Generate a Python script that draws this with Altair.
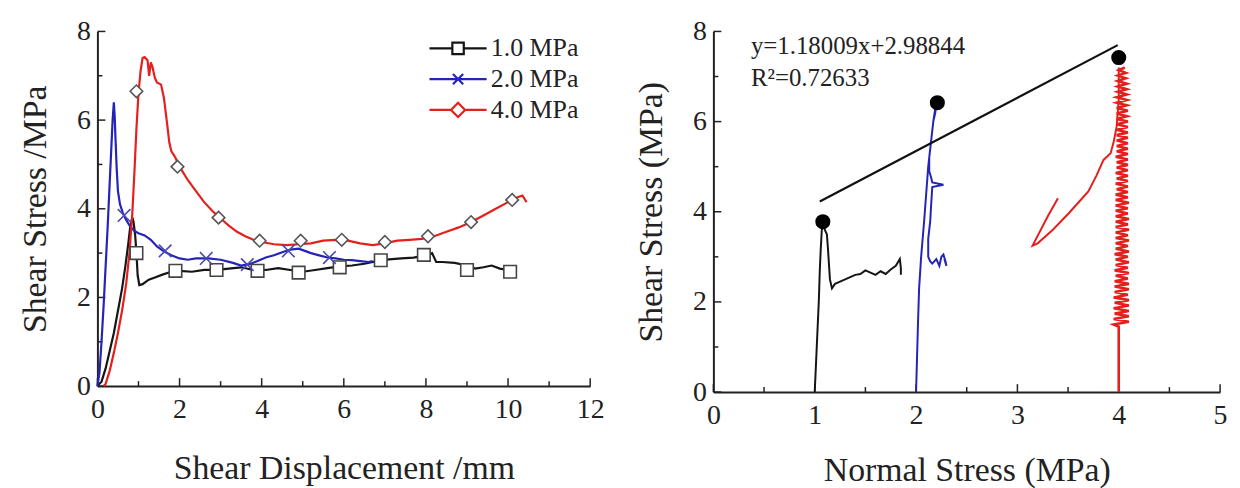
import altair as alt
import pandas as pd

SERIES = ["1.0 MPa", "2.0 MPa", "4.0 MPa"]
COLORS = ["#151515", "#2424b8", "#e41f1c"]
MARKER_STROKE = ["#444444", "#4a4ab0", "#555555"]
FONT = "Liberation Serif"

# ---------------- left panel: shear stress vs shear displacement ----------------
b_x = [0.00, 0.10, 0.20, 0.30, 0.40, 0.50, 0.60, 0.68, 0.75, 0.80, 0.85, 0.88, 0.92, 0.95, 0.98, 1.02, 1.10,
       1.25, 1.40, 1.60, 1.80, 2.00, 2.30, 2.60, 2.90, 3.20, 3.50, 3.80, 4.10, 4.40, 4.70, 5.00, 5.30, 5.60,
       5.90, 6.20, 6.50, 6.80, 7.10, 7.40, 7.70, 8.00, 8.15, 8.25, 8.40, 8.70, 9.00, 9.20, 9.40, 9.60, 9.80, 10.10]
b_y = [0.00, 0.10, 0.40, 0.80, 1.20, 1.70, 2.20, 2.70, 3.20, 3.60, 3.80, 3.70, 3.40, 3.00, 2.50, 2.28, 2.30,
       2.40, 2.45, 2.52, 2.58, 2.60, 2.58, 2.62, 2.62, 2.65, 2.68, 2.62, 2.62, 2.66, 2.62, 2.58, 2.62, 2.66,
       2.70, 2.72, 2.76, 2.82, 2.86, 2.88, 2.90, 2.95, 3.00, 2.80, 2.80, 2.78, 2.72, 2.65, 2.68, 2.72, 2.65, 2.60]
b_mx = [0.95, 1.90, 2.90, 3.90, 4.90, 5.90, 6.90, 7.95, 9.00, 10.05]
b_my = [3.00, 2.60, 2.62, 2.60, 2.56, 2.68, 2.84, 2.96, 2.62, 2.58]

u_x = [0.00, 0.05, 0.10, 0.15, 0.20, 0.25, 0.30, 0.34, 0.37, 0.40, 0.42, 0.44, 0.47, 0.50, 0.55, 0.62, 0.70,
       0.80, 0.90, 1.00, 1.15, 1.30, 1.45, 1.60, 1.80, 2.00, 2.20, 2.40, 2.70, 3.00, 3.30, 3.50, 3.70, 3.90,
       4.10, 4.30, 4.50, 4.70, 4.90, 5.05, 5.20, 5.40, 5.60, 5.80, 6.00, 6.20, 6.40, 6.60, 6.70]
u_y = [0.00, 0.30, 1.00, 1.80, 2.70, 3.60, 4.60, 5.40, 6.00, 6.40, 6.10, 5.60, 4.90, 4.40, 4.10, 3.90, 3.75,
       3.60, 3.50, 3.45, 3.40, 3.30, 3.15, 3.05, 2.95, 2.88, 2.85, 2.88, 2.88, 2.85, 2.78, 2.72, 2.75, 2.82,
       2.90, 2.95, 3.02, 3.08, 3.10, 3.05, 3.00, 2.95, 2.90, 2.88, 2.85, 2.84, 2.82, 2.80, 2.82]
u_mx = [0.65, 1.65, 2.65, 3.65, 4.65, 5.65]
u_my = [3.85, 3.05, 2.88, 2.74, 3.05, 2.90]

r_x = [0.15, 0.20, 0.30, 0.40, 0.50, 0.60, 0.70, 0.78, 0.85, 0.90, 0.95, 1.00, 1.05, 1.10, 1.15, 1.22, 1.26,
       1.30, 1.34, 1.40, 1.45, 1.55, 1.62, 1.70, 1.75, 1.80, 1.90, 2.00, 2.20, 2.40, 2.60, 2.80, 3.00, 3.20,
       3.40, 3.60, 3.80, 4.00, 4.30, 4.60, 4.90, 5.20, 5.50, 5.80, 6.10, 6.40, 6.70, 7.00, 7.30, 7.60, 7.90,
       8.20, 8.50, 8.80, 9.10, 9.40, 9.70, 10.00, 10.20, 10.35, 10.45]
r_y = [0.00, 0.05, 0.35, 0.75, 1.20, 1.70, 2.30, 3.00, 3.90, 4.80, 5.80, 6.60, 7.10, 7.40, 7.42, 7.35, 7.00,
       7.30, 7.20, 6.95, 6.85, 6.80, 6.50, 5.90, 5.50, 5.30, 5.15, 4.95, 4.65, 4.40, 4.15, 3.95, 3.78, 3.62,
       3.48, 3.38, 3.30, 3.25, 3.20, 3.18, 3.20, 3.22, 3.28, 3.30, 3.28, 3.22, 3.18, 3.22, 3.28, 3.30, 3.32,
       3.38, 3.48, 3.58, 3.70, 3.85, 4.00, 4.15, 4.25, 4.30, 4.15]
r_mx = [0.95, 1.95, 2.95, 3.95, 4.95, 5.95, 7.00, 8.05, 9.10, 10.10]
r_my = [6.65, 4.95, 3.80, 3.28, 3.28, 3.30, 3.25, 3.38, 3.70, 4.20]

LX_MAJOR = [0, 2, 4, 6, 8, 10, 12]
LX_MINOR = [1, 3, 5, 7, 9, 11]
Y_MAJOR = [0, 2, 4, 6, 8]
Y_MINOR = [1, 3, 5, 7]

# ---------------- right panel: shear stress vs normal stress ----------------
rb_x = [1.00, 1.02, 1.04, 1.05, 1.06, 1.07, 1.08, 1.10, 1.12, 1.13, 1.15, 1.17, 1.20, 1.25, 1.30, 1.35,
        1.40, 1.45, 1.50, 1.55, 1.60, 1.65, 1.70, 1.75, 1.80, 1.84, 1.85, 1.85]
rb_y = [0.00, 1.00, 2.00, 2.70, 3.20, 3.60, 3.75, 3.60, 3.50, 3.20, 2.50, 2.30, 2.40, 2.45, 2.50, 2.55,
        2.60, 2.62, 2.70, 2.65, 2.60, 2.68, 2.62, 2.72, 2.80, 2.95, 2.75, 2.60]

ru_x = [2.00, 2.01, 2.02, 2.03, 2.05, 2.08, 2.10, 2.12, 2.15, 2.17, 2.19, 2.20, 2.19, 2.17, 2.15, 2.13,
        2.13, 2.15, 2.16, 2.27, 2.16, 2.15, 2.14, 2.12, 2.12, 2.14, 2.16, 2.20, 2.23, 2.25, 2.27, 2.29, 2.30, 2.28]
ru_y = [0.00, 0.80, 1.60, 2.30, 3.00, 3.80, 4.40, 5.00, 5.60, 6.00, 6.30, 6.40, 6.20, 6.00, 5.60, 5.20,
        4.90, 4.75, 4.65, 4.60, 4.55, 4.20, 3.80, 3.40, 3.00, 2.90, 2.85, 2.95, 2.80, 3.00, 3.05, 2.90, 2.80, 2.95]

# red branch running back from the peak
rr1_x = [3.40, 3.30, 3.15, 3.20, 3.35, 3.50, 3.60, 3.70, 3.78, 3.85, 3.92, 3.95, 3.98, 4.00, 4.00]
rr1_y = [4.30, 3.90, 3.25, 3.30, 3.60, 3.95, 4.20, 4.45, 4.80, 5.15, 5.30, 5.55, 5.90, 6.50, 7.20]
# red oscillating band at 4 MPa
rr2_x = [4.00, 4.00, 4.00,
         3.95, 4.10, 3.95, 4.10, 3.96, 4.10, 3.95, 4.10,
         3.96, 4.10, 3.95, 4.09, 3.96, 4.10, 3.96, 4.10,
         3.96, 4.09, 3.97, 4.10, 3.96, 4.09, 3.97, 4.10,
         3.97, 4.09, 3.96, 4.10, 3.97, 4.09, 3.97, 4.10,
         3.97, 4.09, 3.97, 4.10, 3.97, 4.09, 3.97, 4.10,
         3.97, 4.09, 3.97, 4.09, 3.97, 4.10, 3.97, 4.09,
         3.97, 4.09, 3.98, 4.09, 3.97, 4.09, 3.98, 4.09,
         3.97, 4.09, 3.98, 4.09, 3.98, 4.09, 3.97, 4.09,
         3.98, 4.09, 3.98, 4.09, 3.98, 4.09, 3.98, 4.09,
         3.98, 4.09, 3.98, 4.09, 3.98, 4.08, 3.98, 4.09,
         3.98, 4.08, 3.98, 4.08, 3.98, 4.08, 3.99, 4.08,
         3.99, 4.08, 3.99, 4.07, 3.99, 4.07, 4.00, 4.06]
rr2_y = [0.00, 0.80, 1.45,
         1.50, 1.56, 1.62, 1.68, 1.74, 1.80, 1.86, 1.92,
         1.98, 2.04, 2.10, 2.16, 2.22, 2.28, 2.34, 2.40,
         2.46, 2.52, 2.58, 2.64, 2.70, 2.76, 2.82, 2.88,
         2.94, 3.00, 3.06, 3.12, 3.18, 3.24, 3.30, 3.36,
         3.42, 3.48, 3.54, 3.60, 3.66, 3.72, 3.78, 3.84,
         3.90, 3.96, 4.02, 4.08, 4.14, 4.20, 4.26, 4.32,
         4.38, 4.44, 4.50, 4.56, 4.62, 4.68, 4.74, 4.80,
         4.86, 4.92, 4.98, 5.04, 5.10, 5.16, 5.22, 5.28,
         5.34, 5.40, 5.46, 5.52, 5.58, 5.64, 5.70, 5.76,
         5.82, 5.88, 5.94, 6.00, 6.06, 6.12, 6.18, 6.24,
         6.30, 6.36, 6.42, 6.48, 6.54, 6.60, 6.66, 6.72,
         6.78, 6.84, 6.90, 6.96, 7.02, 7.08, 7.14, 7.20]

peak_x = [1.08, 2.21, 4.00]
peak_y = [3.78, 6.42, 7.42]

FIT_SLOPE = 1.18009
FIT_INTERCEPT = 2.98844
fit_x = [1.05, 3.99]

note_x = [0.37, 0.37]
note_y = [7.68, 6.96]
note_text = ["y=1.18009x+2.98844", "R\u00b2=0.72633"]

RX_MAJOR = [0, 1, 2, 3, 4, 5]
RX_MINOR = [0.5, 1.5, 2.5, 3.5, 4.5]

LW, LH = 496, 357
RW, RH = 510, 363
MAJ, MIN = 8, 5


def curve(name, xs, ys, seg=None):
    return pd.DataFrame({"x": xs, "y": ys, "series": name, "seg": seg or name, "i": list(range(len(xs)))})


# ---------- left chart ----------
left_lines = pd.concat([curve(SERIES[0], b_x, b_y), curve(SERIES[1], u_x, u_y), curve(SERIES[2], r_x, r_y)])
left_marks = pd.concat([curve(SERIES[0], b_mx, b_my), curve(SERIES[1], u_mx, u_my), curve(SERIES[2], r_mx, r_my)])
legend_df = pd.DataFrame({"x": [b_mx[0], u_mx[0], r_mx[0]], "y": [b_my[0], u_my[0], r_my[0]], "series": SERIES})

lxs = alt.Scale(domain=[0, 12], nice=False, zero=False)
lys = alt.Scale(domain=[0, 8], nice=False, zero=False)
lxa = alt.Axis(values=LX_MAJOR, title="Shear Displacement /mm", format="d", titlePadding=28)
lya = alt.Axis(values=Y_MAJOR, title="Shear Stress /MPa", format="d")
LX = lambda: alt.X("x:Q", scale=lxs, axis=lxa)
LY = lambda: alt.Y("y:Q", scale=lys, axis=lya)

l_lines = alt.Chart(left_lines).mark_line(strokeWidth=2.2).encode(
    x=LX(), y=LY(),
    color=alt.Color("series:N", scale=alt.Scale(domain=SERIES, range=COLORS), legend=None),
    detail="seg:N", order="i:Q",
)
l_marks = alt.Chart(left_marks).mark_point(filled=True, fill="white", size=160, strokeWidth=1.6, opacity=1).encode(
    x=LX(), y=LY(),
    stroke=alt.Stroke("series:N", scale=alt.Scale(domain=SERIES, range=MARKER_STROKE), legend=None),
    shape=alt.Shape("series:N", scale=alt.Scale(domain=SERIES, range=["square", "M-1,-1L1,1M-1,1L1,-1", "diamond"]), legend=None),
)
leg_paths = [
    "M-2.5,0H-0.5M0.5,0H2.5M-0.5,-0.5H0.5V0.5H-0.5Z",
    "M-2.5,0H2.5M-0.45,-0.45L0.45,0.45M-0.45,0.45L0.45,-0.45",
    "M-2.5,0H-0.62M0.62,0H2.5M-0.62,0L0,-0.62L0.62,0L0,0.62Z",
]
leg = alt.Legend(
    title=None, orient="none", legendX=350, legendY=4, padding=0,
    labelFont=FONT, labelFontSize=26, labelColor="#222", labelOffset=20,
    symbolSize=529, symbolStrokeWidth=2.2, symbolOpacity=1, rowPadding=5,
)
l_legend = alt.Chart(legend_df).mark_point(opacity=0, filled=False).encode(
    x=LX(), y=LY(),
    color=alt.Color("series:N", scale=alt.Scale(domain=SERIES, range=COLORS), legend=leg),
    shape=alt.Shape("series:N", scale=alt.Scale(domain=SERIES, range=leg_paths), legend=leg),
)


def ticks(xs_major, xs_minor, ys_major, ys_minor, X, Y, H):
    out = []
    for vals, ln in ((xs_major, MAJ), (xs_minor, MIN)):
        out.append(alt.Chart(pd.DataFrame({"x": vals})).mark_rule(color="#222", strokeWidth=1.5).encode(
            x=X(), y=alt.value(H), y2=alt.value(H - ln)))
    for vals, ln in ((ys_major, MAJ), (ys_minor, MIN)):
        out.append(alt.Chart(pd.DataFrame({"y": vals})).mark_rule(color="#222", strokeWidth=1.5).encode(
            y=Y(), x=alt.value(0), x2=alt.value(ln)))
    return out


left = alt.layer(
    *ticks(LX_MAJOR, LX_MINOR, Y_MAJOR, Y_MINOR, LX, LY, LH), l_lines, l_marks, l_legend
).resolve_scale(color="independent", shape="independent").properties(width=LW, height=LH)

# ---------- right chart ----------
right_lines = pd.concat([
    curve(SERIES[0], rb_x, rb_y), curve(SERIES[1], ru_x, ru_y), curve(SERIES[2], rr1_x, rr1_y, "red branch"),
])
band_df = curve(SERIES[2], rr2_x, rr2_y, "red band")
fit_df = pd.DataFrame({"x": fit_x, "y": [FIT_SLOPE * v + FIT_INTERCEPT for v in fit_x]})
peak_df = pd.DataFrame({"x": peak_x, "y": peak_y})
note_df = pd.DataFrame({"x": note_x, "y": note_y, "t": note_text})

rxs = alt.Scale(domain=[0, 5], nice=False, zero=False)
rys = alt.Scale(domain=[0, 8], nice=False, zero=False)
rxa = alt.Axis(values=RX_MAJOR, title="Normal Stress (MPa)", format="d")
rya = alt.Axis(values=Y_MAJOR, title="Shear Stress (MPa)", format="d")
RX = lambda: alt.X("x:Q", scale=rxs, axis=rxa)
RY = lambda: alt.Y("y:Q", scale=rys, axis=rya)
r_color = alt.Color("series:N", scale=alt.Scale(domain=SERIES, range=COLORS), legend=None)

r_lines = alt.Chart(right_lines).mark_line(strokeWidth=2).encode(
    x=RX(), y=RY(), color=r_color, detail="seg:N", order="i:Q",
)
r_band = alt.Chart(band_df).mark_line(strokeWidth=2.6).encode(
    x=RX(), y=RY(), color=r_color, detail="seg:N", order="i:Q",
)
r_fit = alt.Chart(fit_df).mark_line(color="#111", strokeWidth=2.2).encode(x=RX(), y=RY())
r_peak = alt.Chart(peak_df).mark_circle(color="#000", size=230, opacity=1).encode(x=RX(), y=RY())
r_note = alt.Chart(note_df).mark_text(align="left", baseline="middle", font=FONT, fontSize=25, color="#222").encode(
    x=RX(), y=RY(), text="t:N")

right = alt.layer(
    *ticks(RX_MAJOR, RX_MINOR, Y_MAJOR, Y_MINOR, RX, RY, RH), r_lines, r_band, r_fit, r_peak, r_note
).properties(width=RW, height=RH)

chart = alt.hconcat(left, right, spacing=31).properties(
    padding={"left": 11, "top": 8, "right": 5, "bottom": 5}
).configure_view(stroke=None).configure_axis(
    labelFont=FONT, labelFontSize=28, labelColor="#222",
    titleFont=FONT, titleFontSize=34, titleColor="#222", titleFontWeight="normal",
    domainColor="#222", domainWidth=2, ticks=False, tickSize=0, grid=False,
    labelFlush=False, labelOverlap=False,
).configure_axisX(titlePadding=24, labelPadding=10).configure_axisY(titlePadding=24, labelPadding=7)

chart.save("out.html", embed_options={"renderer": "svg", "actions": False})
